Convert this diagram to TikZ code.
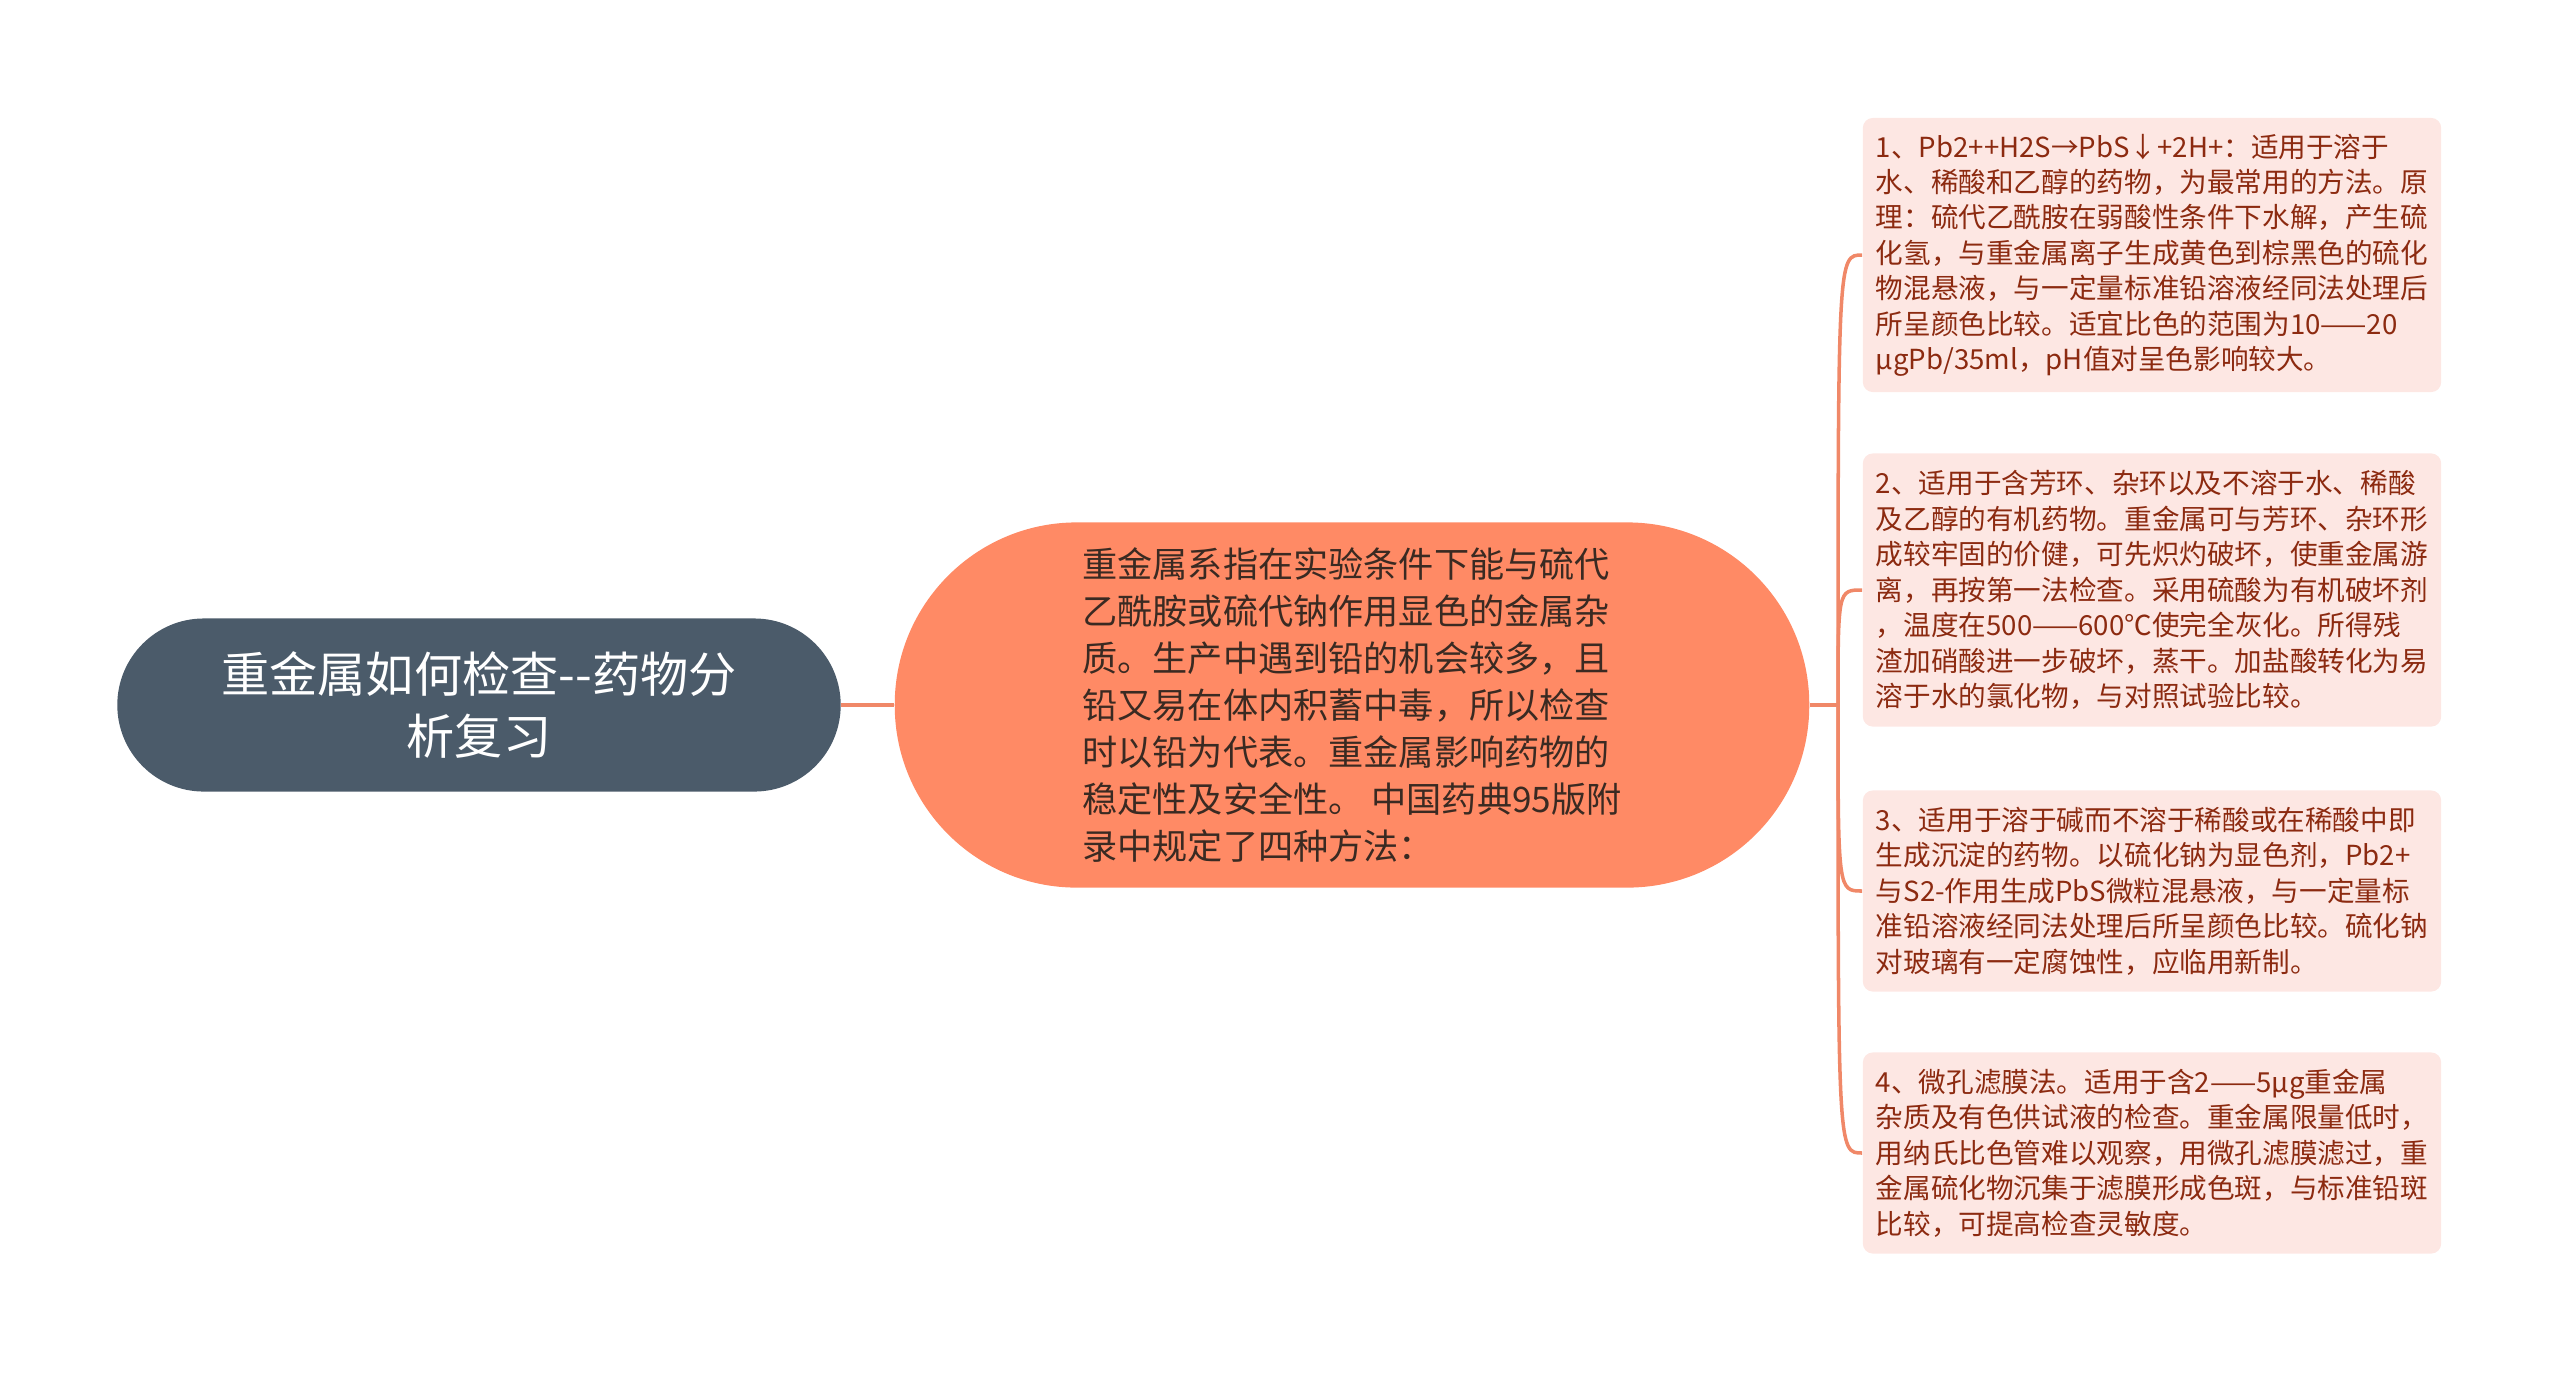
\documentclass[tikz,border=0pt]{standalone}
\usepackage{fontspec}
\setmainfont{Noto Sans CJK SC}
\definecolor{rootfill}{HTML}{4B5B6A}
\definecolor{mainfill}{HTML}{FF8A65}
\definecolor{maintext}{HTML}{3A2A22}
\definecolor{leaffill}{HTML}{FDE7E3}
\definecolor{leaftext}{HTML}{8C2A10}
\definecolor{linkcol}{HTML}{F08868}
\begin{document}
\begin{tikzpicture}[x=0.01cm,y=-0.01cm,
    root/.style={fill=rootfill,text=white,rounded corners=0.865cm,
      minimum width=7.23cm,minimum height=1.73cm,align=center,
      font=\fontsize{13.7pt}{17.6pt}\selectfont},
    mainbox/.style={fill=mainfill,text=maintext,rounded corners=1.82cm,
      minimum width=9.14cm,minimum height=3.65cm,align=left,
      font=\fontsize{10pt}{13.4pt}\selectfont},
    leaf/.style={fill=leaffill,text=leaftext,rounded corners=0.1cm,
      minimum width=5.78cm,align=left,inner sep=0pt,
      font=\fontsize{7.85pt}{10.07pt}\selectfont}]
  \useasboundingbox (0,0) rectangle (2560,1375);
  \node[root] (root) at (479,705) {重金属如何检查-{}-药物分\\析复习};
  \node[mainbox] (main) at (1352,705) {重金属系指在实验条件下能与硫代\\
    乙酰胺或硫代钠作用显色的金属杂\\
    质。生产中遇到铅的机会较多，且\\
    铅又易在体内积蓄中毒，所以检查\\
    时以铅为代表。重金属影响药物的\\
    稳定性及安全性。 中国药典95版附\\
    录中规定了四种方法：};
  \node[leaf,minimum height=2.74cm] (m1) at (2152,255) {1、Pb2++H2S→PbS↓+2H+：适用于溶于\\
    水、稀酸和乙醇的药物，为最常用的方法。原\\
    理：硫代乙酰胺在弱酸性条件下水解，产生硫\\
    化氢，与重金属离子生成黄色到棕黑色的硫化\\
    物混悬液，与一定量标准铅溶液经同法处理后\\
    所呈颜色比较。适宜比色的范围为10——20\\
    µgPb/35ml，pH值对呈色影响较大。};
  \node[leaf,minimum height=2.73cm] (m2) at (2152,590) {2、适用于含芳环、杂环以及不溶于水、稀酸\\
    及乙醇的有机药物。重金属可与芳环、杂环形\\
    成较牢固的价健，可先炽灼破坏，使重金属游\\
    离，再按第一法检查。采用硫酸为有机破坏剂\\
    ，温度在500——600℃使完全灰化。所得残\\
    渣加硝酸进一步破坏，蒸干。加盐酸转化为易\\
    溶于水的氯化物，与对照试验比较。};
  \node[leaf,minimum height=2.01cm] (m3) at (2152,891) {3、适用于溶于碱而不溶于稀酸或在稀酸中即\\
    生成沉淀的药物。以硫化钠为显色剂，Pb2+\\
    与S2-作用生成PbS微粒混悬液，与一定量标\\
    准铅溶液经同法处理后所呈颜色比较。硫化钠\\
    对玻璃有一定腐蚀性，应临用新制。};
  \node[leaf,minimum height=2.01cm] (m4) at (2152,1153) {4、微孔滤膜法。适用于含2——5µg重金属\\
    杂质及有色供试液的检查。重金属限量低时，\\
    用纳氏比色管难以观察，用微孔滤膜滤过，重\\
    金属硫化物沉集于滤膜形成色斑，与标准铅斑\\
    比较，可提高检查灵敏度。};
  \coordinate (fork) at (1838,705);
  \begin{scope}[linkcol,line width=1pt]
    \draw[line width=1.1pt] (root) -- (main);
    \draw (main.east) -- (fork);
    \foreach \i in {1,...,4}
      \draw (fork) .. controls (fork |- m\i.west) .. (m\i.west);
  \end{scope}
\end{tikzpicture}
\end{document}
